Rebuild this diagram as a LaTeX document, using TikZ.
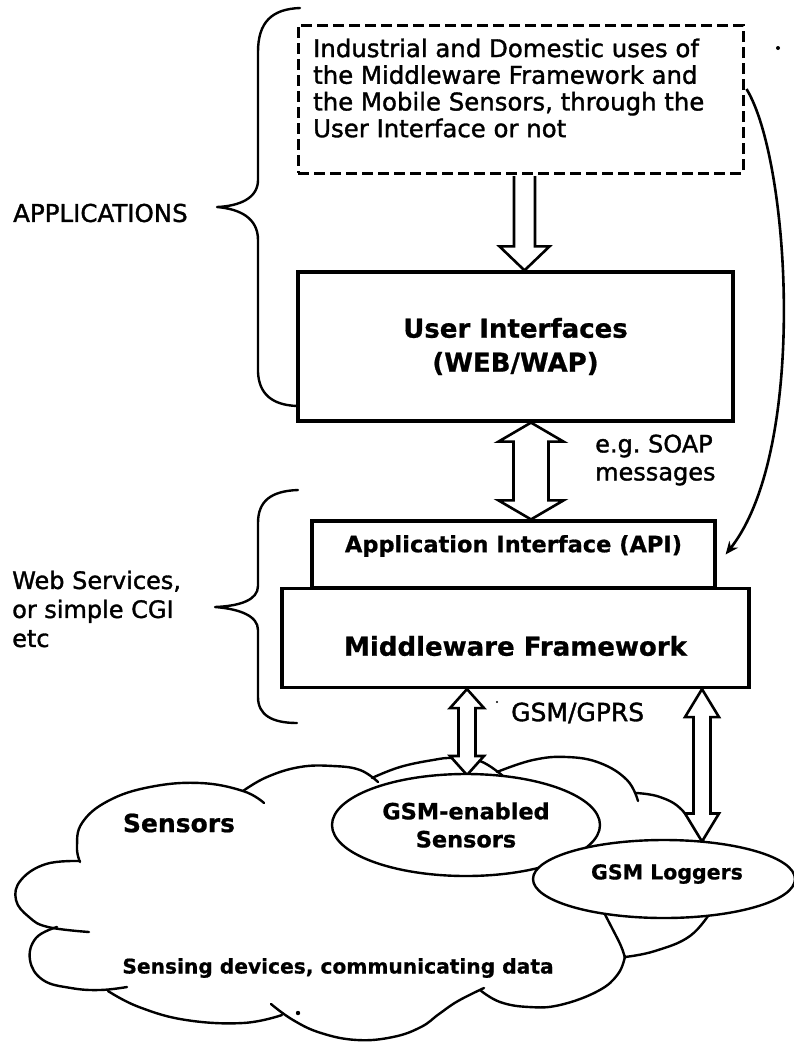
\documentclass[tikz,border=0pt]{standalone}
\usepackage{fontspec}
\usepackage{graphicx}
\setmainfont{DejaVu Sans}[BoldFeatures={FakeBold=0.8}]
\newfontfamily\regfont{DejaVu Sans}[FakeBold=1.4]
\frenchspacing
\usetikzlibrary{shapes.geometric,arrows.meta,calc}

% hollow block arrow with a head at both ends: #1 top tip, #2 bottom tip,
% #3 half shaft width, #4 half head width, #5 head length
\newcommand\twoheaded[5]{%
  \draw[hollow] (#1) -- ($(#1)+(#4,#5)$) -- ($(#1)+(#3,#5)$)
    -- ($(#2)+(#3,-#5)$) -- ($(#2)+(#4,-#5)$) -- (#2)
    -- ($(#2)+(-#4,-#5)$) -- ($(#2)+(-#3,-#5)$)
    -- ($(#1)+(-#3,#5)$) -- ($(#1)+(-#4,#5)$) -- cycle;}

\begin{document}
\begin{tikzpicture}[x=1pt,y=-1pt,
  box/.style={draw,line width=3.2pt,fill=white,inner sep=0pt},
  dashbox/.style={draw,line width=3pt,dash pattern=on 11pt off 5pt,inner sep=0pt},
  hollow/.style={draw,line width=2.6pt,fill=white,line join=miter},
  puff/.style={line width=2.4pt,line cap=round,line join=round},
  bracket/.style={line width=2.4pt,line cap=round,line join=round},
  blob/.style={ellipse,draw,line width=2.4pt,fill=white,inner sep=0pt},
  plain/.style={inner sep=0pt,align=left},
]
\useasboundingbox (0,0) rectangle (794,1042);

% ---------- applications layer ----------
\node[dashbox,minimum width=445pt,minimum height=148pt] (uses) at (520.5,99) {};
\node[plain,anchor=west,font=\regfont\fontsize{24.4}{26.7}\selectfont] (usestext) at (313,88)
  {Industrial and Domestic uses of\\the Middleware Framework and\\the Mobile Sensors, through the\\User Interface or not};

\node[box,minimum width=435pt,minimum height=149pt,align=center,
      font=\bfseries\fontsize{26}{34}\selectfont] (ui) at (515.5,346.5)
  {User Interfaces\\(WEB/WAP)};

% ---------- middleware layer ----------
\node[box,minimum width=403pt,minimum height=67pt] (api) at (513.5,554.5) {};
\node[box,minimum width=467pt,minimum height=99pt] (mw) at (515.5,638) {};
\node[plain,font=\bfseries\fontsize{22.5}{22.5}\selectfont] (apitext) at (513.5,546)
  {Application Interface (API)};
\node[plain,font=\bfseries\fontsize{26}{26}\selectfont] (mwtext) at (515.5,646)
  {Middleware Framework};

% ---------- braces and their labels ----------
\draw[bracket] (300,8) .. controls (272,9) and (258,22) .. (258,52)
  -- (258,180) .. controls (258,198) and (240,206) .. (217,207)
  .. controls (240,209) and (258,218) .. (258,240)
  -- (258,372) .. controls (259,394) and (272,405) .. (297,406);
\node[plain,anchor=west,font=\regfont\fontsize{24.5}{28}\selectfont] (applbl) at (13,213) {APPLICATIONS};

\draw[bracket] (298,490) .. controls (271,491) and (258,501) .. (258,523)
  -- (258,586) .. controls (258,600) and (240,606) .. (215,607)
  .. controls (240,609) and (258,616) .. (258,630)
  -- (258,697) .. controls (258,715) and (272,723) .. (297,723);
\node[plain,anchor=west,font=\regfont\fontsize{24}{29}\selectfont] (wslbl) at (12,609)
  {Web Services,\\or simple CGI\\etc};

% ---------- block arrows between layers ----------
\coordinate (ax1) at (524.5,0);
\coordinate (ax2) at (531,0);
\coordinate (a1t) at (uses.south -| ax1);
\coordinate (a1b) at (ui.north -| ax1);
\draw[hollow] ($(a1t)+(-10.5,1.5)$) -- ($(a1b)+(-10.5,-24)$) -- ($(a1b)+(-25,-24)$)
  -- (a1b) -- ($(a1b)+(25,-24)$) -- ($(a1b)+(10.5,-24)$) -- ($(a1t)+(10.5,1.5)$);

\coordinate (a2t) at (ui.south -| ax2);
\coordinate (a2b) at (api.north -| ax2);
\twoheaded{a2t}{a2b}{17.5}{32.5}{19}
\node[plain,anchor=west,font=\regfont\fontsize{24}{28}\selectfont] (soap) at (595,460)
  {e.g. SOAP\\messages};

% ---------- sensor cloud ----------
\draw[puff] plot[smooth,tension=0.7] coordinates
  {(80,862) (77,847) (82,823) (108,801) (150,787) (200,783) (243,791) (264,803)};
\draw[puff] plot[smooth,tension=0.7] coordinates
  {(243,791) (267,777) (300,767) (333,766) (360,770) (378,782)};
\draw[puff] plot[smooth,tension=0.7] coordinates
  {(372,778) (400,767) (433,760) (453,758) (480,761) (503,776)};
\draw[puff] plot[smooth,tension=0.7] coordinates
  {(497,772) (533,760) (567,757) (600,763) (627,780) (638,801)};
\draw[puff] plot[smooth,tension=0.7] coordinates
  {(636,793) (660,797) (682,810) (700,837) (722,862)};
\draw[puff] plot[smooth,tension=0.7] coordinates
  {(712,910) (690,936) (655,951) (625,957)};
\draw[puff] plot[smooth,tension=0.7] coordinates
  {(600,905) (612,928) (621,946) (625,958)};
\draw[puff] plot[smooth,tension=0.7] coordinates
  {(625,956) (618,974) (598,991) (560,1005) (529,1007) (500,1002) (480,990)};
\draw[puff] plot[smooth,tension=0.7] coordinates
  {(484,988) (458,1001) (439,1014) (421,1027) (393,1037) (357,1040) (321,1033) (293,1020) (271,1004)};
\draw[puff] plot[smooth,tension=0.7] coordinates
  {(282,1015) (243,1023) (186,1020) (139,1007) (108,991)};
\draw[puff] plot[smooth,tension=0.7] coordinates
  {(127,987) (100,990) (71,988) (43,980) (30,960) (36,938) (57,927)};
\draw[puff] plot[smooth,tension=0.7] coordinates
  {(89,932) (48,927) (29,917) (16,900) (21,880) (46,864) (80,861)};

\node[plain,font=\bfseries\fontsize{25}{25}\selectfont] (senslbl) at (179,823) {Sensors};
\node[plain,font=\bfseries\fontsize{20.2}{20.2}\selectfont] (sensing) at (338,968)
  {Sensing devices, communicating data};

% ---------- GSM links ----------
\coordinate (aAb) at (467,775);
\coordinate (aBb) at (702,841.5);
\coordinate (aAt) at (mw.south -| aAb);
\coordinate (aBt) at (mw.south -| aBb);
\twoheaded{aAt}{aAb}{8.5}{17}{19}
\twoheaded{aBt}{aBb}{8.5}{17}{28}

\node[blob,minimum width=268pt,minimum height=102pt,align=center,
      font=\bfseries\fontsize{22.4}{28}\selectfont] (gsm) at (466,825)
  {GSM-enabled\\Sensors};
\node[blob,minimum width=262pt,minimum height=78pt] (loggers) at (664,879) {};
\node[plain,font=\bfseries\fontsize{20.5}{20.5}\selectfont] (loggerstext) at (667,874) {GSM Loggers};

\node[plain,anchor=west,font=\regfont\fontsize{25}{25}\selectfont] (gprs) at (511,713) {GSM/GPRS};

% ---------- curved link from the uses box to the API ----------
\draw[line width=2.6pt,-{Stealth[length=13pt,width=11pt]}]
  ($(uses.east)+(2,-10)$) .. controls (790,160) and (808,450) .. ($(api.east)+(9,0)$);

% specks
\fill (778,48) circle (2pt);
\fill (298,1013) circle (2.2pt);
\fill (497,702) circle (1.2pt);
\end{tikzpicture}
\end{document}
